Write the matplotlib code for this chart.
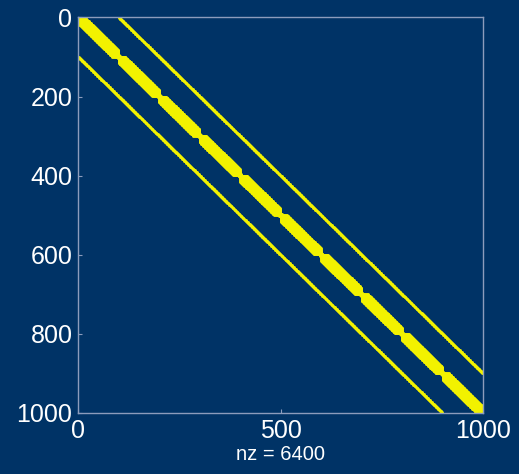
import numpy as np
import matplotlib
matplotlib.use("Agg")
import matplotlib.pyplot as plt

# ---- data (matrix structure) ----
n = 1000
block_size = 100
inner_offsets = [-4, -2, -1, 0, 1, 2, 4]                                   # full diagonals
block_offsets = [-15, -13, -11, -9, -7, -6, 6, 7, 9, 11, 13, 15]          # restricted to 100x100 blocks
far_offsets = [-100, 100]                                                   # full diagonals
nz_label = "nz = 6400"
tick_values = [0, 200, 400, 600, 800, 1000]
xtick_values = [0, 500, 1000]

M = np.zeros((n, n), dtype=bool)
idx = np.arange(n)
blocks = idx // block_size


def add_diag(k, in_block):
    i = idx[(idx + k >= 0) & (idx + k < n)]
    j = i + k
    if in_block:
        keep = blocks[i] == blocks[j]
        i, j = i[keep], j[keep]
    M[i, j] = True


for k in inner_offsets:
    add_diag(k, False)
for k in block_offsets:
    add_diag(k, True)
for k in far_offsets:
    add_diag(k, False)

bg = "#003366"
fg = "#ffffff"
spine = "#8c9cbc"
yellow = "#f2f200"

fig = plt.figure(figsize=(5.19, 4.74), dpi=100, facecolor=bg)
ax = fig.add_axes([78 / 519, (474 - 413) / 474, 405 / 519, 396 / 474])
ax.set_facecolor(bg)
ax.spy(M, marker="o", markersize=2.0, color=yellow, markeredgewidth=0, aspect="auto")
ax.set_xlim(-1, n)
ax.set_ylim(n, -1)
ax.xaxis.set_ticks_position("bottom")
ax.xaxis.set_label_position("bottom")
ax.set_xticks(xtick_values)
ax.set_yticks(tick_values)
for s in ax.spines.values():
    s.set_color(spine)
    s.set_linewidth(1.0)
ax.tick_params(direction="in", length=3, color=spine, labelcolor=fg,
               labelsize=18, pad=4, top=False, right=False)
for lab in ax.get_xticklabels() + ax.get_yticklabels():
    lab.set_fontfamily("Liberation Sans")
ax.set_xlabel(nz_label, color=fg, fontsize=14.5, family="Liberation Sans", labelpad=2)

fig.savefig("out.png", dpi=100, facecolor=bg)
